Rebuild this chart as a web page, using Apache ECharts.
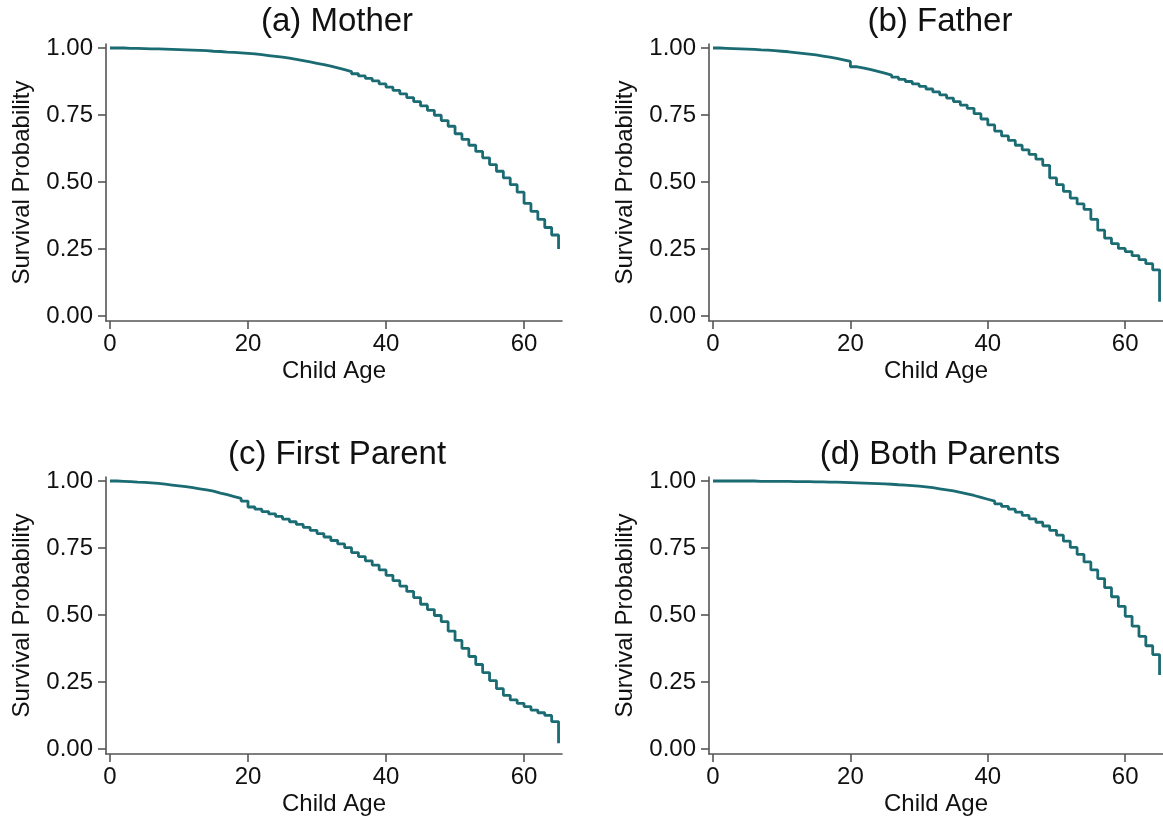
<!DOCTYPE html>
<html>
<head>
<meta charset="utf-8">
<script src="https://cdn.jsdelivr.net/npm/echarts@6/dist/echarts.min.js"></script>
<style>
html,body{margin:0;padding:0;background:#fff;}
#chart{width:1163px;height:822px;}
</style>
</head>
<body>
<div id="chart"></div>
<script>
// ---- data ----
const ages = [0,1,2,3,4,5,6,7,8,9,10,11,12,13,14,15,16,17,18,19,20,21,22,23,24,25,26,27,28,29,30,31,32,33,34,35,36,37,38,39,40,41,42,43,44,45,46,47,48,49,50,51,52,53,54,55,56,57,58,59,60,61,62,63,64,65];

const mother = [1.000,1.000,0.999,0.999,0.998,0.997,0.997,0.996,0.995,0.994,
  0.993,0.992,0.991,0.990,0.988,0.987,0.985,0.984,0.982,0.980,
  0.978,0.975,0.972,0.969,0.966,0.962,0.958,0.953,0.948,0.943,
  0.938,0.932,0.926,0.919,0.912,0.904,0.896,0.887,0.877,0.866,
  0.854,0.842,0.829,0.815,0.800,0.784,0.767,0.749,0.729,0.708,
  0.680,0.659,0.637,0.614,0.590,0.565,0.540,0.515,0.490,0.462,
  0.420,0.390,0.360,0.330,0.302,0.250];

const father = [1.000,0.999,0.998,0.997,0.996,0.995,0.993,0.992,0.990,0.988,
  0.986,0.983,0.980,0.977,0.974,0.970,0.966,0.961,0.956,0.950,
  0.930,0.925,0.919,0.913,0.906,0.899,0.891,0.883,0.875,0.866,
  0.857,0.847,0.836,0.825,0.813,0.800,0.787,0.775,0.755,0.735,
  0.713,0.690,0.672,0.655,0.637,0.620,0.603,0.585,0.562,0.515,
  0.490,0.465,0.440,0.418,0.398,0.360,0.320,0.290,0.270,0.252,
  0.240,0.225,0.210,0.195,0.172,0.053];

const firstParent = [1.000,0.999,0.998,0.996,0.995,0.993,0.991,0.988,0.985,0.982,
  0.979,0.975,0.971,0.967,0.962,0.955,0.949,0.942,0.935,0.925,
  0.903,0.895,0.886,0.877,0.868,0.858,0.848,0.838,0.827,0.816,
  0.804,0.791,0.778,0.765,0.751,0.733,0.718,0.702,0.686,0.668,
  0.648,0.628,0.608,0.588,0.565,0.540,0.520,0.498,0.475,0.440,
  0.405,0.375,0.345,0.315,0.285,0.255,0.225,0.200,0.183,0.170,
  0.158,0.145,0.135,0.125,0.102,0.021];

const bothParents = [1.000,1.000,1.000,1.000,1.000,1.000,0.999,0.999,0.999,0.999,
  0.999,0.998,0.998,0.998,0.997,0.997,0.996,0.996,0.995,0.994,
  0.993,0.992,0.991,0.990,0.989,0.988,0.986,0.985,0.983,0.981,
  0.978,0.975,0.971,0.967,0.963,0.958,0.952,0.946,0.939,0.932,
  0.925,0.915,0.905,0.895,0.884,0.872,0.859,0.846,0.832,0.816,
  0.798,0.776,0.752,0.726,0.698,0.668,0.636,0.602,0.568,0.532,
  0.495,0.458,0.420,0.385,0.352,0.276];

const panelTitles = ['(a) Mother','(b) Father','(c) First Parent','(d) Both Parents'];
const panelSeries = [mother, father, firstParent, bothParents];
const xTicks = [0,20,40,60];
const yTicks = [0,0.25,0.5,0.75,1];
const xName = 'Child Age';
const yName = 'Survival Probability';

// ---- layout / style ----
const FONT = "'Liberation Sans', Arial, Helvetica, sans-serif";
const AXIS_COLOR = '#555555';
const LINE_COLOR = '#1b6b73';
const grids = [
  {left:106, top:44, width:456, height:277},
  {left:709, top:44, width:456, height:277},
  {left:106, top:477, width:456, height:277},
  {left:709, top:477, width:456, height:277}
];

const axisLineStyle = {show:true, onZero:false, lineStyle:{color:AXIS_COLOR, width:1.6}};
const tickStyle = {show:true, length:8, lineStyle:{color:AXIS_COLOR, width:1.6}};

const option = {
  backgroundColor:'#ffffff',
  animation:false,
  title: grids.map((g,i)=>({
    text: panelTitles[i],
    left: g.left + g.width/2 - 2,
    top: g.top - 44,
    textAlign:'center',
    textStyle:{fontFamily:FONT, fontSize:33, fontWeight:'normal', color:'#111'}
  })),
  grid: grids.map(g=>Object.assign({containLabel:false}, g)),
  xAxis: grids.map((g,i)=>({
    type:'value', gridIndex:i, min:-0.58, max:65.5,
    axisLine: axisLineStyle,
    axisTick: Object.assign({customValues:xTicks}, tickStyle),
    axisLabel:{customValues:xTicks, fontFamily:FONT, fontSize:24, color:'#111', margin:11},
    splitLine:{show:false},
    name:xName, nameLocation:'middle', nameGap:38,
    nameTextStyle:{fontFamily:FONT, fontSize:24, color:'#111'}
  })),
  yAxis: grids.map((g,i)=>({
    type:'value', gridIndex:i, min:-0.019, max:1.015,
    axisLine: axisLineStyle,
    axisTick: Object.assign({customValues:yTicks}, tickStyle),
    axisLabel:{customValues:yTicks, fontFamily:FONT, fontSize:24, color:'#111', margin:13,
      formatter:v=>v.toFixed(2)},
    splitLine:{show:false},
    name:yName, nameLocation:'middle', nameGap:72,
    nameTextStyle:{fontFamily:FONT, fontSize:24, color:'#111'}
  })),
  series: panelSeries.map((vals,i)=>({
    type:'line', xAxisIndex:i, yAxisIndex:i,
    step:'end', showSymbol:false, symbol:'none',
    lineStyle:{color:LINE_COLOR, width:2.8},
    data: ages.map((a,k)=>[a, vals[k]])
  }))
};

const chart = echarts.init(document.getElementById('chart'), null, {renderer:'canvas'});
chart.setOption(option);
</script>
</body>
</html>
